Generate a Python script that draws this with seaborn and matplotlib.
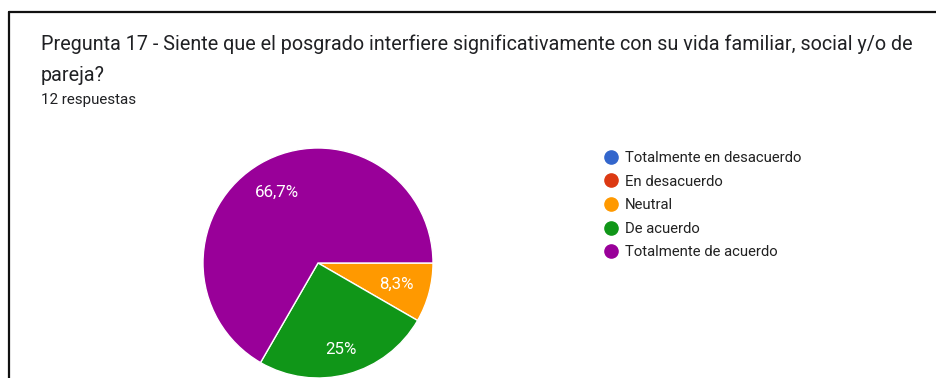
import matplotlib
matplotlib.use("Agg")
import matplotlib.pyplot as plt
from matplotlib.lines import Line2D
import numpy as np
import seaborn as sns

# Survey answers (12 responses)
categories = ["Totalmente en desacuerdo", "En desacuerdo", "Neutral",
              "De acuerdo", "Totalmente de acuerdo"]
counts = [0, 0, 1, 3, 8]
slice_colors = ["#3366CC", "#DC3912", "#FF9900", "#109618", "#990099"]

title_line1 = ("Pregunta 17 - Siente que el posgrado interfiere significativamente "
               "con su vida familiar, social y/o de")
title_line2 = "pareja?"
subtitle = "12 respuestas"

sns.set_theme(style="white")
plt.rcParams["font.family"] = ["Roboto", "DejaVu Sans"]

W, H = 937, 378
fig = plt.figure(figsize=(W / 100, H / 100), dpi=100)
fig.patch.set_facecolor("white")


def fx(px):
    return px / W


def fy(py):
    return 1 - py / H


# Card border (top and left edges)
fig.add_artist(Line2D([fx(9), fx(9)], [fy(12), 0], color="#111111", lw=1.6))
fig.add_artist(Line2D([fx(9), 1], [fy(12), fy(12)], color="#111111", lw=1.6))

# Headings
fig.text(fx(41), fy(50), title_line1, fontsize=14.2, color="#202124", va="baseline")
fig.text(fx(41), fy(81), title_line2, fontsize=14.2, color="#202124", va="baseline")
fig.text(fx(41), fy(104), subtitle, fontsize=10.9, color="#202124", va="baseline")

# Pie (only non-empty answers get a wedge)
vals, cols = [], []
for v, c in zip(counts, slice_colors):
    if v > 0:
        vals.append(v)
        cols.append(c)


def fmt(p):
    s = f"{p:.1f}".rstrip("0").rstrip(".")
    return s.replace(".", ",") + "%"


radius_px = 115
cx, cy = 318, 263
ax = fig.add_axes([fx(cx - radius_px), fy(cy + radius_px),
                   2 * radius_px / W, 2 * radius_px / H])
wedges, texts, autotexts = ax.pie(
    vals, colors=cols, startangle=0, counterclock=False,
    autopct=fmt, pctdistance=0.71,
    wedgeprops=dict(edgecolor="white", linewidth=1.0),
    textprops=dict(color="white", fontsize=12.2),
)
for w in wedges:
    w.set_clip_on(False)
# the larger quarter slice carries its label a little further out
for w, t, v in zip(wedges, autotexts, vals):
    if v == 3:
        ang = np.deg2rad((w.theta1 + w.theta2) / 2)
        t.set_position((0.78 * np.cos(ang), 0.78 * np.sin(ang)))
ax.set_xlim(-1, 1)
ax.set_ylim(-1, 1)
ax.set_aspect("equal")
ax.axis("off")

# Legend with circular markers
handles = [Line2D([0], [0], marker="o", linestyle="", markersize=9.5,
                  markerfacecolor=c, markeredgecolor=c)
           for c in slice_colors]
fig.legend(handles, categories, loc="upper left",
           bbox_to_anchor=(fx(599.6), fy(151)), frameon=False,
           fontsize=10.7, labelcolor="#222222", handletextpad=0.22,
           handlelength=1.5, labelspacing=0.645, borderaxespad=0, borderpad=0)

fig.savefig("out.png", dpi=100, facecolor="white")
